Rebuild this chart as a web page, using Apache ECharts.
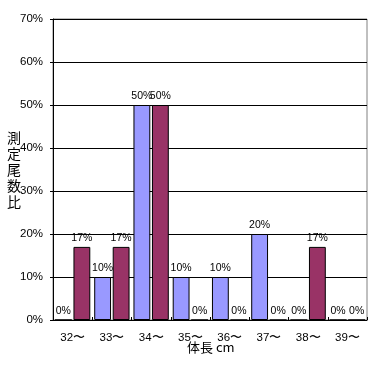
<!DOCTYPE html>
<html><head><meta charset="utf-8">
<script src="https://cdn.jsdelivr.net/npm/echarts@6/dist/echarts.min.js"></script>
<style>html,body{margin:0;padding:0;background:#fff}#c{width:372px;height:365px}</style>
</head><body><div id="c"></div>
<script>
var categories = ['32〜','33〜','34〜','35〜','36〜','37〜','38〜','39〜'];
var seriesA = [0, 10, 50, 10, 10, 20, 0, 0];
var seriesB = [17, 17, 50, 0, 0, 0, 17, 0];
var yTicks = [0, 10, 20, 30, 40, 50, 60, 70];
var xName = '体長 cm';
var yName = '測定尾数比';

var font = 'Liberation Sans, sans-serif';
var chart = echarts.init(document.getElementById('c'), null, {renderer: 'canvas'});
var lbl = {show: true, position: 'top', distance: 3, formatter: '{c}%', color: '#000', fontSize: 10.5, fontFamily: font};
chart.setOption({
  animation: false,
  backgroundColor: '#fff',
  grid: {left: 53, right: 5, top: 19, bottom: 45, show: true, borderColor: '#808080', borderWidth: 1},
  xAxis: {
    type: 'category', data: categories,
    axisLine: {lineStyle: {color: '#000', width: 1}},
    axisTick: {show: true, inside: true, length: 3, lineStyle: {color: '#000'}},
    axisLabel: {color: '#000', fontSize: 11.5, fontFamily: font, margin: 12}
  },
  yAxis: {
    type: 'value', min: yTicks[0], max: yTicks[yTicks.length-1], interval: 10,
    axisLine: {show: true, lineStyle: {color: '#000', width: 1}},
    axisTick: {show: true, length: 3, lineStyle: {color: '#000'}},
    axisLabel: {color: '#000', fontSize: 11.5, fontFamily: font, formatter: '{value}%', margin: 10},
    splitLine: {show: true, lineStyle: {color: '#000', width: 1}}
  },
  graphic: [
    {type: 'text', left: 7, top: 130, style: {text: yName.split('').join('\n'), fontSize: 14, lineHeight: 16, fontFamily: 'Noto Sans CJK JP', fill: '#000'}},
    {type: 'text', left: 187, top: 341, style: {text: xName, fontSize: 13, fontFamily: 'Noto Sans CJK JP', fill: '#000'}}
  ],
  series: [
    {type: 'bar', data: seriesA, barGap: '10%', barCategoryGap: '10%', itemStyle: {color: '#9999FF', borderColor: '#000', borderWidth: 1}, label: lbl},
    {type: 'bar', data: seriesB, itemStyle: {color: '#993366', borderColor: '#000', borderWidth: 1}, label: lbl}
  ]
});
</script></body></html>
